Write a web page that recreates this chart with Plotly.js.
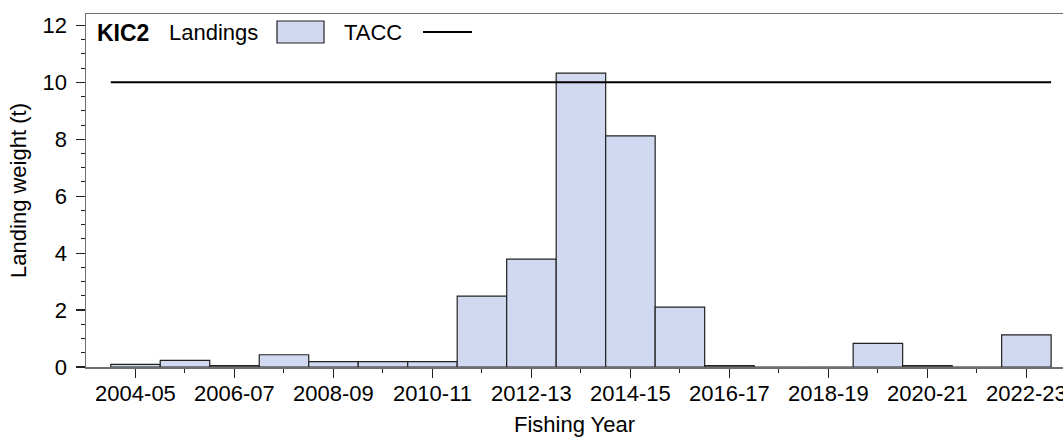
<!DOCTYPE html>
<html>
<head>
<meta charset="utf-8">
<script src="https://cdn.plot.ly/plotly-3.0.1.min.js"></script>
<style>html,body{margin:0;padding:0;background:#fff;}#chart{width:1063px;height:437px;}</style>
</head>
<body>
<div id="chart"></div>
<script>
// Data
var years = ["2004-05","2005-06","2006-07","2007-08","2008-09","2009-10","2010-11","2011-12","2012-13","2013-14","2014-15","2015-16","2016-17","2017-18","2018-19","2019-20","2020-21","2021-22","2022-23"];
var landings = [0.09, 0.23, 0.05, 0.43, 0.19, 0.19, 0.19, 2.49, 3.79, 10.32, 8.12, 2.1, 0.05, 0, 0, 0.83, 0.05, 0, 1.13];
var tacc = 10;
var stockName = "KIC2";

var idx = years.map(function(_, i){ return i; });
var majorVals = idx.filter(function(i){ return i % 2 === 0; });
var majorText = majorVals.map(function(i){ return years[i]; });
var minorVals = idx.filter(function(i){ return i % 2 === 1; });

var L = 86, T = 14, W = 1063, H = 437, B = 70, R = 0;
var pw = W - L - R, ph = H - T - B;
function px(x){ return (x - L) / pw; }
function py(y){ return (H - B - y) / ph; }

var font = {family: "Liberation Sans, Arial, sans-serif", size: 22, color: "#000"};

var traces = [
  {
    type: "bar", x: idx, y: landings, width: 1,
    marker: {color: "#d1d9f1", line: {color: "#222", width: 1.2}},
    hoverinfo: "skip", showlegend: false
  },
  {
    type: "scatter", mode: "lines",
    x: [idx[0] - 0.5, idx[idx.length - 1] + 0.5], y: [tacc, tacc],
    line: {color: "#000", width: 2}, hoverinfo: "skip", showlegend: false
  }
];

var layout = {
  width: W, height: H,
  margin: {l: L, r: R, t: T, b: B, pad: 0},
  paper_bgcolor: "#fff", plot_bgcolor: "#fff",
  font: font,
  showlegend: false,
  xaxis: {
    range: [-1, 18.74], showgrid: false, zeroline: false,
    showline: true, linecolor: "#6e6e6e", linewidth: 1.5, mirror: true,
    tickmode: "array", tickvals: majorVals, ticktext: majorText,
    ticklabeloverflow: "allow",
    ticks: "outside", ticklen: 9, tickwidth: 1.2, tickcolor: "#222",
    ticklabelstandoff: -3,
    tickfont: font,
    minor: {tickmode: "array", tickvals: minorVals, ticks: "outside", ticklen: 4, tickwidth: 1, tickcolor: "#222", showgrid: false},
    title: {text: "Fishing Year", font: font, standoff: 14}
  },
  yaxis: {
    range: [0, 12.4], showgrid: false, zeroline: false,
    showline: true, linecolor: "#6e6e6e", linewidth: 1.5,
    tickmode: "linear", tick0: 0, dtick: 2,
    ticks: "outside", ticklen: 9, tickwidth: 1.2, tickcolor: "#222",
    ticklabelstandoff: 4,
    tickfont: font,
    minor: {dtick: 0.5, ticks: "outside", ticklen: 4, tickwidth: 1, tickcolor: "#222", showgrid: false},
    title: {text: "Landing weight (t)", font: font, standoff: 10}
  },
  annotations: [
    {xref: "paper", yref: "paper", x: px(95), y: py(33), xanchor: "left", yanchor: "middle", showarrow: false,
     text: "<b>" + stockName + "</b>", font: {family: font.family, size: 23, color: "#000"}},
    {xref: "paper", yref: "paper", x: px(167), y: py(33), xanchor: "left", yanchor: "middle", showarrow: false,
     text: "Landings", font: font},
    {xref: "paper", yref: "paper", x: px(342), y: py(33), xanchor: "left", yanchor: "middle", showarrow: false,
     text: "TACC", font: font}
  ],
  shapes: [
    {type: "rect", xref: "paper", yref: "paper", x0: px(277), x1: px(324), y0: py(43), y1: py(21),
     fillcolor: "#d1d9f1", line: {color: "#222", width: 1.2}},
    {type: "line", xref: "paper", yref: "paper", x0: px(423), x1: px(472), y0: py(32), y1: py(32),
     line: {color: "#000", width: 2}}
  ]
};

Plotly.newPlot("chart", traces, layout, {staticPlot: true, displayModeBar: false});
</script>
</body>
</html>
